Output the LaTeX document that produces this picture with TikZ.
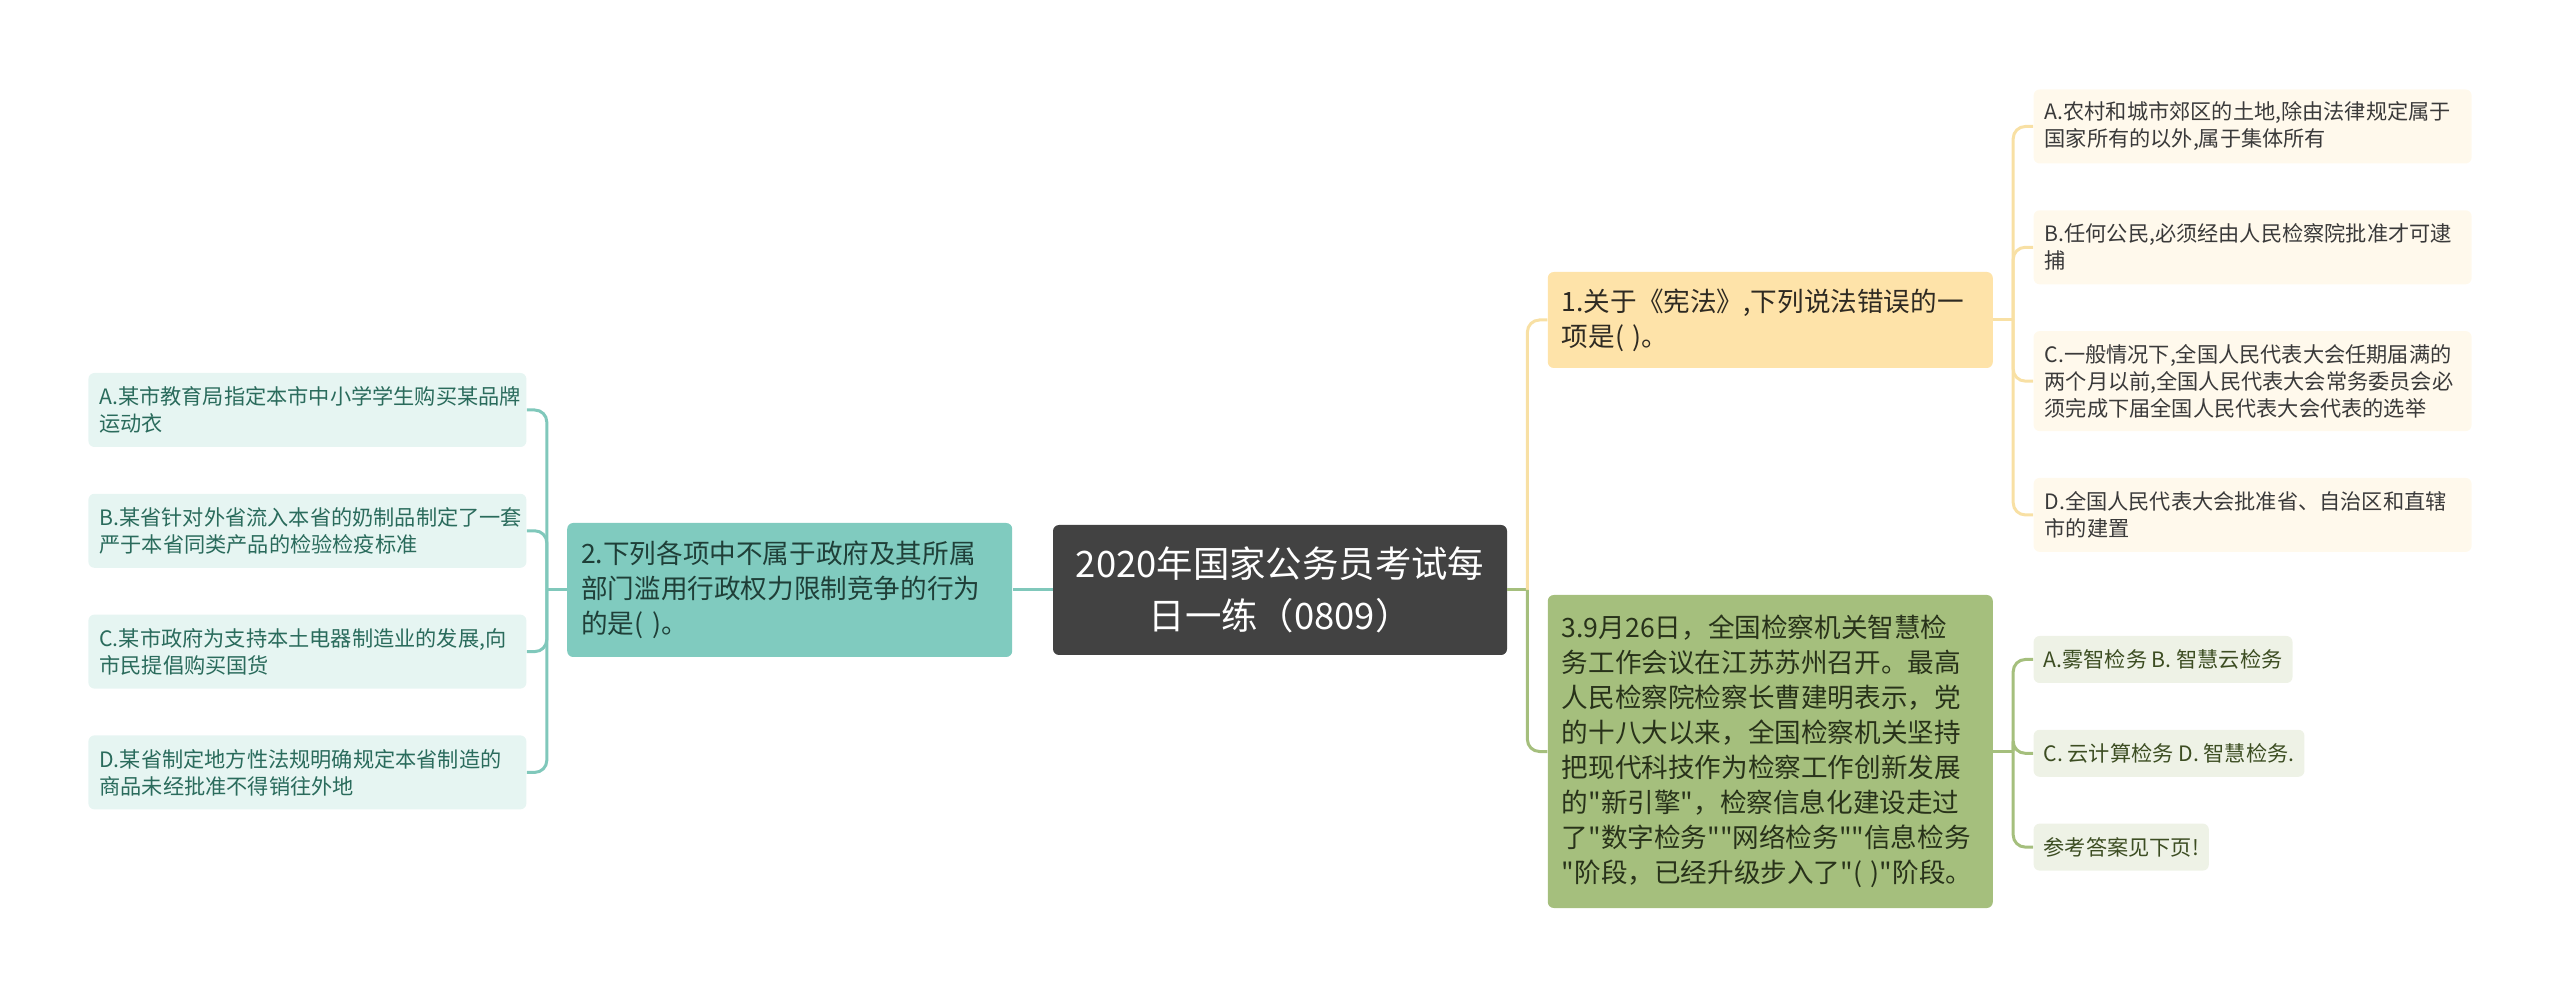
\documentclass[tikz,border=0pt]{standalone}
\usepackage{fontspec}
\setmainfont{Noto Sans CJK SC}[Ligatures=TeXOff]
\usetikzlibrary{positioning}
\definecolor{rootgray}{HTML}{424242}
\definecolor{tealbox}{HTML}{80CBBF}
\definecolor{tealtext}{HTML}{1F3F38}
\definecolor{tealleaf}{HTML}{E6F5F2}
\definecolor{tealleaftext}{HTML}{2A6B5C}
\definecolor{tealline}{HTML}{80C8BB}
\definecolor{yellowbox}{HTML}{FEE3A9}
\definecolor{yellowtext}{HTML}{2E2A22}
\definecolor{yellowleaf}{HTML}{FFF9EC}
\definecolor{yellowleaftext}{HTML}{3A3A3A}
\definecolor{yellowline}{HTML}{F8E0A4}
\definecolor{greenbox}{HTML}{A5BF7D}
\definecolor{greentext}{HTML}{28321A}
\definecolor{greenleaf}{HTML}{EEF2E6}
\definecolor{greenleaftext}{HTML}{3C4D22}
\definecolor{greenline}{HTML}{A5BF7D}

\begin{document}
\begin{tikzpicture}[x=0.5pt, y=-0.5pt, node distance=23pt and 20pt]
  % Styles
  \tikzset{
    topic/.style={rectangle, rounded corners=3pt, fill=rootgray, text=white, align=center,
      minimum width=227pt, minimum height=65pt, font=\fontsize{18.2}{26}\selectfont},
    main/.style={rectangle, rounded corners=3pt, align=left, text width=208.5pt,
      inner xsep=7pt, font=\fontsize{13.3}{17.5}\selectfont},
    leaf/.style={rectangle, rounded corners=3pt, align=left, inner xsep=5pt,
      font=\fontsize{10.6}{13.5}\selectfont},
    wideleaf/.style={leaf, text width=208pt, inner xsep=5.5pt, minimum height=37pt},
    link/.style={line width=1.5pt, rounded corners=6pt}
  }
  \useasboundingbox (0,0) rectangle (2560,999);

  % ----- Root -----
  \node[topic] (root) at (1280,590) {2020年国家公务员考试每\\日一练（0809）};

  % ----- Main topics -----
  \node[main, fill=tealbox, text=tealtext, minimum height=67pt, left=20pt of root] (q2)
    {2.下列各项中不属于政府及其所属\\部门滥用行政权力限制竞争的行为\\的是( )。};
  \node[main, fill=yellowbox, text=yellowtext, minimum height=48pt,
    right=20pt of root.east, yshift=135pt] (q1) {1.关于《宪法》,下列说法错误的一\\项是( )。};
  \node[main, fill=greenbox, text=greentext, minimum height=156.5pt,
    right=20pt of root.east, yshift=-80.75pt] (q3)
    {3.9月26日，全国检察机关智慧检\\务工作会议在江苏苏州召开。最高\\人民检察院检察长曹建明表示，党\\的十八大以来，全国检察机关坚持\\把现代科技作为检察工作创新发展\\的"新引擎"，检察信息化建设走过\\了"数字检务""网络检务""信息检务\\"阶段，已经升级步入了"( )"阶段。};

  % ----- Options of question 2 -----
  \node[wideleaf, fill=tealleaf, text=tealleaftext, left=20pt of q2.west, yshift=90pt] (la)
    {A.某市教育局指定本市中小学学生购买某品牌\\运动衣};
  \node[wideleaf, fill=tealleaf, text=tealleaftext, below=of la] (lb)
    {B.某省针对外省流入本省的奶制品制定了一套\\严于本省同类产品的检验检疫标准};
  \node[wideleaf, fill=tealleaf, text=tealleaftext, below=of lb] (lc)
    {C.某市政府为支持本土电器制造业的发展,向\\市民提倡购买国货};
  \node[wideleaf, fill=tealleaf, text=tealleaftext, below=of lc] (ld)
    {D.某省制定地方性法规明确规定本省制造的\\商品未经批准不得销往外地};

  % ----- Options of question 1 -----
  \node[wideleaf, fill=yellowleaf, text=yellowleaftext, right=20pt of q1.east, yshift=96.75pt] (ra)
    {A.农村和城市郊区的土地,除由法律规定属于\\国家所有的以外,属于集体所有};
  \node[wideleaf, fill=yellowleaf, text=yellowleaftext, below=of ra] (rb)
    {B.任何公民,必须经由人民检察院批准才可逮\\捕};
  \node[wideleaf, fill=yellowleaf, text=yellowleaftext, minimum height=50pt, below=of rb] (rc)
    {C.一般情况下,全国人民代表大会任期届满的\\两个月以前,全国人民代表大会常务委员会必\\须完成下届全国人民代表大会代表的选举};
  \node[wideleaf, fill=yellowleaf, text=yellowleaftext, below=of rc] (rd)
    {D.全国人民代表大会批准省、自治区和直辖\\市的建置};

  % ----- Options of question 3 -----
  \node[leaf, fill=greenleaf, text=greenleaftext, minimum height=23.5pt,
    right=20pt of q3.east, yshift=46pt] (sa) {A.雾智检务 B. 智慧云检务};
  \node[leaf, fill=greenleaf, text=greenleaftext, minimum height=23.5pt,
    below=of sa.south west, anchor=north west] (sb) {C. 云计算检务 D. 智慧检务.};
  \node[leaf, fill=greenleaf, text=greenleaftext, minimum height=23.5pt,
    below=of sb.south west, anchor=north west] (sc) {参考答案见下页!};

  % ----- Connectors -----
  \coordinate[left=10pt of q2.west] (jl);
  \coordinate[right=10pt of root.east] (jr);
  \coordinate[right=10pt of q1.east] (j1);
  \coordinate[right=10pt of q3.east] (j3);

  \draw[link, tealline] (root.west) -- (q2.east);
  \draw[link, tealline] (q2.west) -- (jl);
  \draw[link, tealline] (jl) |- (la.east);
  \draw[link, tealline] (jl) |- (lb.east);
  \draw[link, tealline] (jl) |- (lc.east);
  \draw[link, tealline] (jl) |- (ld.east);

  \draw[link, greenline] (root.east) -- (jr);
  \draw[link, yellowline] (jr) |- (q1.west);
  \draw[link, greenline] (jr) |- (q3.west);

  \draw[link, yellowline] (q1.east) -- (j1);
  \draw[link, yellowline] (j1) |- (ra.west);
  \draw[link, yellowline] (j1) |- (rb.west);
  \draw[link, yellowline] (j1) |- (rc.west);
  \draw[link, yellowline] (j1) |- (rd.west);

  \draw[link, greenline] (q3.east) -- (j3);
  \draw[link, greenline] (j3) |- (sa.west);
  \draw[link, greenline] (j3) |- (sb.west);
  \draw[link, greenline] (j3) |- (sc.west);

\end{tikzpicture}
\end{document}
